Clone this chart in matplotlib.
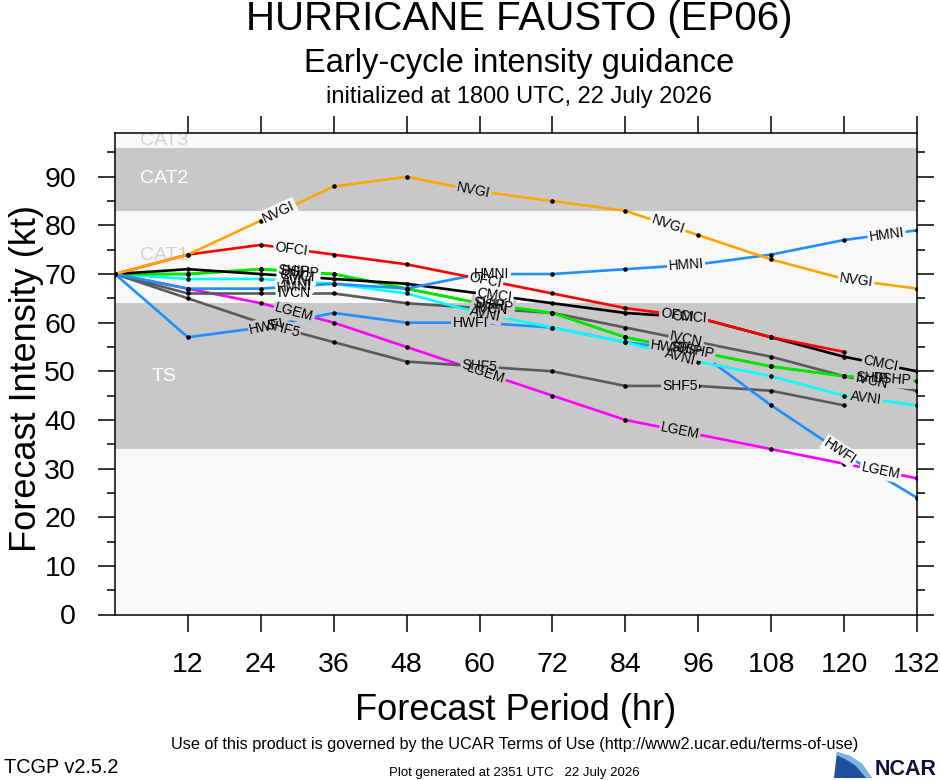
import numpy as np
import matplotlib
matplotlib.use('Agg')
import matplotlib.pyplot as plt
from matplotlib.patches import Polygon

plt.rcParams['font.family'] = ['Liberation Sans', 'DejaVu Sans']

# ---------------- data ----------------
hours = [0, 12, 24, 36, 48, 60, 72, 84, 96, 108, 120, 132]
xticks = [12, 24, 36, 48, 60, 72, 84, 96, 108, 120, 132]
yticks = [0, 10, 20, 30, 40, 50, 60, 70, 80, 90]

nvgi = [70, 74, 81, 88, 90, 87, 85, 83, 78, 73, 69, 67]
ofci = [70, 74, 76, 74, 72, 69, 66, 63, 61, 57, 54]
hmni = [70, 67, 67, 68, 67, 70, 70, 71, 72, 74, 77, 79]
cmci = [70, 71, 70, 69, 68, 66, 64, 62, 61, 57, 53, 50]
dshp = [70, 70, 71, 70, 67, 64, 62, 57, 54, 51, 49, 48]
ship = [70, 70, 71, 70, 67, 64, 62, 57, 54, 51, 49, 48]
avni = [70, 69, 69, 68, 66, 62, 59, 56, 52, 49, 45, 43]
ivcn = [70, 66, 66, 66, 64, 63, 62, 59, 56, 53, 49, 46]
hwfi = [70, 57, 59, 62, 60, 60, 59, 56, 54, 43, 33, 24]
shf5 = [70, 65, 60, 56, 52, 51, 50, 47, 47, 46, 43]
lgem = [70, 67, 64, 60, 55, 50, 45, 40, 37, 34, 31, 28]

model_names = ['LGEM', 'SHF5', 'IVCN', 'HWFI', 'AVNI', 'SHIP', 'DSHP',
               'CMCI', 'HMNI', 'OFCI', 'NVGI']
model_values = [lgem, shf5, ivcn, hwfi, avni, ship, dshp, cmci, hmni, ofci, nvgi]

band_names = ['TS', 'CAT1', 'CAT2', 'CAT3']
band_lo = [34, 64, 83, 96]
band_hi = [64, 83, 96, 113]

# ---------------- style ----------------
colors = {'NVGI': '#ffa500', 'OFCI': '#ff0000', 'HMNI': '#1e90ff',
          'HWFI': '#1e90ff', 'CMCI': '#000000', 'DSHP': '#00e600',
          'SHIP': '#00e600', 'AVNI': '#00ffff', 'IVCN': '#5a5a5a',
          'SHF5': '#5a5a5a', 'LGEM': '#ff00ff'}
label_hours = {'NVGI': [27.0, 59.0, 91.0, 122.0],
               'OFCI': [29.0, 61.0, 92.5],
               'HMNI': [29.5, 62.0, 94.0, 127.0],
               'CMCI': [30.0, 62.5, 94.5, 126.0],
               'DSHP': [30.5, 62.5, 95.5, 128.0],
               'SHIP': [29.5, 61.5, 94.0, 124.5],
               'AVNI': [30.0, 61.0, 93.0, 123.6],
               'IVCN': [29.5, 62.0, 94.0, 124.5],
               'HWFI': [25.0, 58.5, 91.0, 119.3],
               'SHF5': [27.5, 60.0, 93.0],
               'LGEM': [29.5, 61.0, 93.0, 126.0]}
band_fill = {'TS': '#c8c8c8', 'CAT1': '#f8f8f8', 'CAT2': '#c8c8c8', 'CAT3': '#f8f8f8'}
band_text = {'TS': 'white', 'CAT1': '#d2d2d2', 'CAT2': 'white', 'CAT3': '#d2d2d2'}
band_label_y = {'TS': 49, 'CAT1': 73.8, 'CAT2': 89.6, 'CAT3': 97.4}
light_bg = '#f8f8f8'

W, H = 940, 780
fig = plt.figure(figsize=(W / 100, H / 100), dpi=100)
ax = fig.add_axes([115 / W, 1 - 614.5 / H, 802 / W, 481.5 / H])
ax.set_facecolor(light_bg)
ax.set_xlim(0, 132)
ax.set_ylim(0, 99)


def bg_color(y):
    for n, lo, hi in zip(band_names, band_lo, band_hi):
        if lo <= y < hi:
            return band_fill[n]
    return light_bg


for n, lo, hi in zip(band_names, band_lo, band_hi):
    ax.axhspan(lo, hi, color=band_fill[n], zorder=0, lw=0)
    ax.text(8.15, band_label_y[n], n, color=band_text[n], fontsize=14,
            ha='center', va='center', zorder=1, clip_on=True)

for name, vals in zip(model_names, model_values):
    hx = hours[:len(vals)]
    ax.plot(hx, vals, color=colors[name], lw=1.9, zorder=2,
            solid_capstyle='butt')
    ax.plot(hx, vals, ls='none', marker='o', ms=3.3, mfc='black',
            mec='black', mew=0, zorder=3)

# line labels along the curves
for name, vals in zip(model_names, model_values):
    hx = hours[:len(vals)]
    for h in label_hours[name]:
        if h > hx[-1]:
            continue
        y = float(np.interp(h, hx, vals))
        i = int(np.searchsorted(hx, h, side='right')) - 1
        i = min(max(i, 0), len(hx) - 2)
        p1 = ax.transData.transform((hx[i], vals[i]))
        p2 = ax.transData.transform((hx[i + 1], vals[i + 1]))
        ang = np.degrees(np.arctan2(p2[1] - p1[1], p2[0] - p1[0]))
        ax.text(h, y, name, fontsize=10, rotation=ang, rotation_mode='anchor',
                ha='center', va='center', color='none', zorder=4,
                bbox=dict(boxstyle='square,pad=0.1', fc=bg_color(y), ec='none'))
        ax.text(h, y, name, fontsize=10, rotation=ang, rotation_mode='anchor',
                ha='center', va='center', color='black', zorder=5)

ax.set_xticks(xticks)
ax.set_yticks(yticks)
ax.set_yticks(np.arange(5, 99, 10), minor=True)
ax.tick_params(axis='both', which='major', direction='out', length=12,
               width=1.1, top=True, right=True, labelsize=20.5, colors='black')
ax.tick_params(axis='y', which='major', pad=16)
ax.tick_params(axis='x', which='major', pad=15)
ax.tick_params(axis='y', which='minor', direction='out', length=6, width=1.1,
               right=True, left=True)
for s in ax.spines.values():
    s.set_linewidth(1.1)
    s.set_zorder(6)

# titles
cx = 519 / W
fig.text(cx, 1 - 29.5 / H, 'HURRICANE FAUSTO (EP06)', fontsize=29,
         ha='center', va='baseline')
fig.text(cx, 1 - 71.7 / H, 'Early-cycle intensity guidance', fontsize=23.5,
         ha='center', va='baseline')
fig.text(cx, 1 - 103.3 / H, 'initialized at 1800 UTC, 22 July 2026',
         fontsize=17, ha='center', va='baseline')

fig.text(27 / W, 1 - 378 / H, 'Forecast Intensity (kt)', fontsize=26,
         rotation=90, ha='center', va='center')
fig.text(516 / W, 1 - 720 / H, 'Forecast Period (hr)', fontsize=26,
         ha='center', va='baseline')

fig.text(515 / W, 1 - 749 / H,
         'Use of this product is governed by the UCAR Terms of Use '
         '(http://www2.ucar.edu/terms-of-use)', fontsize=11.7,
         ha='center', va='baseline')
fig.text(4 / W, 1 - 773 / H, 'TCGP v2.5.2', fontsize=14.3, ha='left',
         va='baseline')
fig.text(389 / W, 1 - 776 / H, 'Plot generated at 2351 UTC   22 July 2026',
         fontsize=9.5, ha='left', va='baseline')

# NCAR logo
fig.text(936 / W, 1 - 775 / H, 'NCAR', fontsize=15.5, fontweight='bold',
         ha='right', va='baseline', color='#10103a')
sw = [(837, 752), (850, 756), (862, 764), (872, 778), (834, 778)]
fig.patches.append(Polygon([(x / W, 1 - y / H) for x, y in sw], closed=True,
                           transform=fig.transFigure, fc='#1d4f9c', ec='none'))
sw2 = [(837, 752), (850, 756), (862, 764), (872, 778), (866, 778),
       (856, 766), (845, 759), (836, 755)]
fig.patches.append(Polygon([(x / W, 1 - y / H) for x, y in sw2], closed=True,
                           transform=fig.transFigure, fc='#7fb3e8', ec='none'))

fig.savefig('out.png', dpi=100)
